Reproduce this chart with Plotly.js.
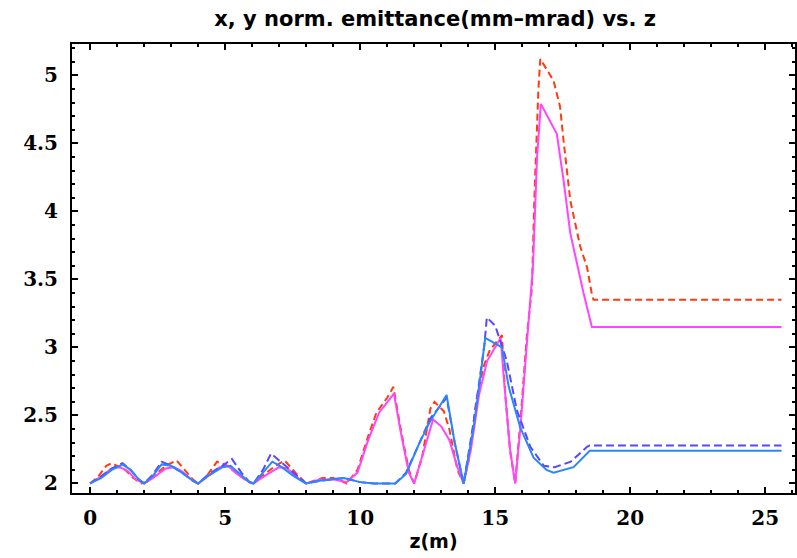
<!DOCTYPE html>
<html>
<head>
<meta charset="utf-8">
<script src="https://cdn.plot.ly/plotly-3.0.1.min.js"></script>
<style>html,body{margin:0;padding:0;background:#fff;}#chart{width:797px;height:558px;}</style>
</head>
<body>
<div id="chart"></div>
<script>
// red dashed series
const zRed = [0,0.3,0.6,0.8,1.0,1.3,1.6,1.9,2.2,2.5,2.8,3.2,3.5,3.8,4.0,4.3,4.7,5.0,5.4,5.8,6.05,6.4,6.8,7.2,7.6,8.0,8.3,8.6,9.0,9.3,9.5,9.9,10.3,10.6,11.0,11.23,11.5,11.8,12.0,12.3,12.6,12.75,13.1,13.3,13.6,13.83,14.05,14.3,14.57,14.8,15.25,15.37,15.55,15.74,15.95,16.17,16.36,16.45,16.6,16.67,17.16,17.4,17.53,17.78,18.15,18.4,18.58,18.64,25.6];
const yRed = [2.0,2.05,2.13,2.15,2.13,2.1,2.04,2.0,2.02,2.08,2.13,2.17,2.1,2.03,2.0,2.05,2.16,2.14,2.08,2.02,2.0,2.06,2.12,2.17,2.08,2.0,2.02,2.04,2.04,2.02,2.0,2.1,2.35,2.52,2.63,2.71,2.4,2.1,2.0,2.2,2.55,2.6,2.53,2.4,2.1,2.0,2.2,2.61,2.86,2.98,3.09,2.66,2.24,2.0,2.5,3.08,3.44,4.1,4.9,5.12,4.96,4.77,4.52,4.08,3.74,3.59,3.39,3.35,3.35];

// magenta solid series
const zMag = [0,0.4,0.8,1.1,1.4,1.7,2.0,2.4,2.8,3.1,3.4,3.8,4.0,4.4,4.8,5.1,5.5,5.9,6.05,6.5,7.0,7.3,7.7,8.0,8.5,9.0,9.5,9.9,10.3,10.7,11.0,11.25,11.5,11.8,12.0,12.3,12.7,13.0,13.3,13.6,13.83,14.1,14.4,14.7,15.2,15.35,15.55,15.74,15.95,16.2,16.4,16.55,16.69,17.28,17.53,17.78,18.27,18.58,25.6];
const yMag = [2.0,2.05,2.11,2.12,2.09,2.03,2.0,2.05,2.11,2.12,2.09,2.02,2.0,2.06,2.12,2.13,2.06,2.01,2.0,2.06,2.12,2.11,2.04,2.0,2.03,2.03,2.01,2.08,2.32,2.52,2.6,2.66,2.38,2.08,2.0,2.2,2.47,2.42,2.32,2.12,2.0,2.25,2.65,2.9,3.07,2.7,2.25,2.0,2.45,3.1,3.6,4.4,4.79,4.57,4.23,3.84,3.4,3.15,3.15];

// blue dashed series
const zBlueD = [0,0.4,0.8,1.2,1.5,1.8,2.0,2.3,2.65,3.0,3.4,3.8,4.0,4.4,4.9,5.25,5.6,5.9,6.05,6.4,6.7,7.0,7.4,7.8,8.0,8.5,9.4,10.0,10.5,11.3,11.7,12.2,12.6,13.2,13.5,13.83,14.2,14.6,14.69,15.0,15.43,15.8,16.3,16.8,17.2,17.8,18.4,18.5,25.6];
const yBlueD = [2.0,2.05,2.11,2.15,2.1,2.03,2.0,2.06,2.16,2.13,2.08,2.02,2.0,2.07,2.13,2.18,2.08,2.01,2.0,2.1,2.22,2.17,2.1,2.03,2.0,2.02,2.04,2.01,2.0,2.0,2.08,2.3,2.48,2.63,2.3,2.0,2.45,3.02,3.22,3.16,2.9,2.54,2.27,2.13,2.12,2.16,2.27,2.28,2.28];

// blue solid series
const zBlue = [0,0.4,0.8,1.2,1.5,1.8,2.0,2.3,2.65,3.0,3.4,3.8,4.0,4.4,4.9,5.2,5.6,5.9,6.05,6.4,6.75,7.1,7.5,7.9,8.0,8.5,9.4,10.0,10.5,11.3,11.7,12.2,12.6,13.2,13.5,13.83,14.2,14.5,14.63,15.25,15.5,15.93,16.42,16.9,17.16,17.9,18.5,25.6];
const yBlue = [2.0,2.04,2.1,2.14,2.1,2.03,2.0,2.05,2.14,2.13,2.08,2.02,2.0,2.06,2.12,2.13,2.06,2.01,2.0,2.08,2.16,2.12,2.06,2.01,2.0,2.02,2.04,2.01,2.0,2.0,2.07,2.3,2.46,2.65,2.3,2.0,2.41,2.86,3.07,3.0,2.71,2.41,2.19,2.1,2.08,2.12,2.24,2.24];

const xTickVals = [0,5,10,15,20,25];
const xTickText = ['0','5','10','15','20','25'];
const yTickVals = [2,2.5,3,3.5,4,4.5,5];
const yTickText = ['2','2.5','3','3.5','4','4.5','5'];

const titleText = "x, y norm. emittance(mm\u2013mrad) vs. z";
const xTitle = "z(m)";

const traces = [
  {x: zRed, y: yRed, mode: 'lines', line: {color: '#ff3b10', width: 2, dash: '7px,4px'}},
  {x: zMag, y: yMag, mode: 'lines', line: {color: '#ff45ff', width: 2}},
  {x: zBlueD, y: yBlueD, mode: 'lines', line: {color: '#5a46ff', width: 2, dash: '8px,4px'}},
  {x: zBlue, y: yBlue, mode: 'lines', line: {color: '#2a86ff', width: 2}}
];

const tickFont = {family: '"DejaVu Serif", serif', size: 20, color: '#000', weight: 700};
const titleFont = {family: '"DejaVu Sans", sans-serif', size: 21, color: '#000', weight: 700};
const axisTitleFont = {family: '"DejaVu Sans", sans-serif', size: 19, color: '#000', weight: 700};

const layout = {
  width: 797, height: 558,
  margin: {l: 72, r: 2, t: 44, b: 65},
  paper_bgcolor: '#fff', plot_bgcolor: '#fff',
  showlegend: false,
  title: {text: titleText, x: 0.546, xanchor: 'center', y: 0.966, yanchor: 'middle', font: titleFont},
  xaxis: {
    range: [-0.67, 26.1], showgrid: false, zeroline: false,
    showline: true, linecolor: '#000', linewidth: 2, mirror: 'ticks',
    ticks: 'inside', ticklen: 6, tickwidth: 2, tickcolor: '#000',
    tickvals: xTickVals, ticktext: xTickText,
    minor: {tickvals: [1,2,3,4,6,7,8,9,11,12,13,14,16,17,18,19,21,22,23,24,26], ticks: 'inside', ticklen: 3, tickwidth: 2, tickcolor: '#000'},
    tickfont: tickFont, ticklabelstandoff: 6,
    title: {text: xTitle, standoff: 6, font: axisTitleFont}
  },
  yaxis: {
    range: [1.93, 5.23], showgrid: false, zeroline: false,
    showline: true, linecolor: '#000', linewidth: 2, mirror: 'ticks',
    ticks: 'inside', ticklen: 6, tickwidth: 2, tickcolor: '#000',
    tickvals: yTickVals, ticktext: yTickText,
    minor: {dtick: 0.1, ticks: 'inside', ticklen: 3, tickwidth: 2, tickcolor: '#000'},
    tickfont: tickFont, ticklabelstandoff: 8
  }
};

Plotly.newPlot('chart', traces, layout, {displayModeBar: false, staticPlot: true});
</script>
</body>
</html>
